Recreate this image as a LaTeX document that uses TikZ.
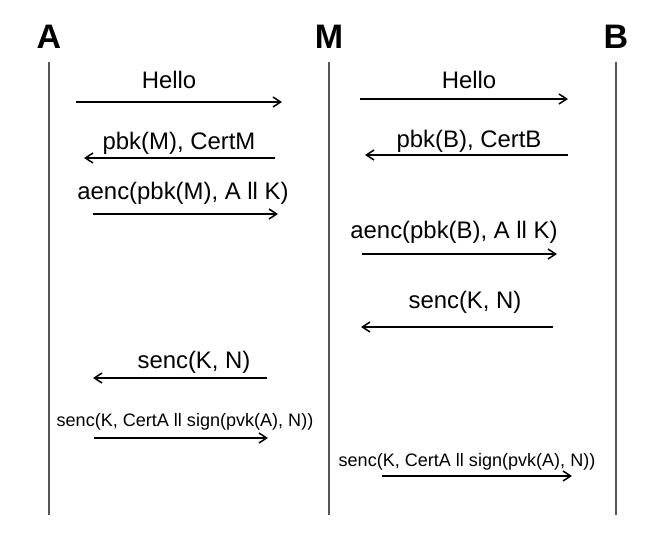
\documentclass[tikz,border=0pt]{standalone}
\usepackage{fontspec}
\setmainfont{Liberation Sans}
\usetikzlibrary{arrows.meta}
\definecolor{lifegray}{HTML}{555555}

\begin{document}
\begin{tikzpicture}[x=0.03cm, y=-0.03cm,
      party/.style={font=\fontsize{29}{31}\selectfont\bfseries, anchor=base,
                    inner sep=0pt},
      msg/.style={font=\fontsize{20.4}{22}\selectfont, anchor=base, inner sep=0pt},
      smallmsg/.style={font=\fontsize{15.4}{17}\selectfont, anchor=base,
                       inner sep=0pt},
      life/.style={draw=lifegray, line width=2pt},
      flow/.style={-{Straight Barb[length=6.5pt, width=8.5pt]}, line width=1.3pt},
    ]
      \useasboundingbox (0,0) rectangle (659,537);

      % participants
      \node[party] (A) at (49,49) {A};
      \node[party] (M) at (329,49) {M};
      \node[party] (B) at (616,49) {B};
      \coordinate (Atop) at (49,62);  \coordinate (Abot) at (49,515);
      \coordinate (Mtop) at (329,62); \coordinate (Mbot) at (329,515);
      \coordinate (Btop) at (616,62); \coordinate (Bbot) at (616,515);
      \draw[life] (Atop) -- (Abot);
      \draw[life] (Mtop) -- (Mbot);
      \draw[life] (Btop) -- (Bbot);

      % A <-> M
      \node[msg] (helloAM) at (169,89) {Hello};
      \coordinate (helloAMs) at (76,102);  \coordinate (helloAMe) at (282,102);
      \draw[flow] (helloAMs) -- (helloAMe);

      \node[msg] (certM) at (179,150) {pbk(M), CertM};
      \coordinate (certMs) at (275,158);  \coordinate (certMe) at (84,158);
      \draw[flow] (certMs) -- (certMe);

      \node[msg] (aencM) at (183,200) {aenc(pbk(M), A ll K)};
      \coordinate (aencMs) at (93,214);  \coordinate (aencMe) at (278,214);
      \draw[flow] (aencMs) -- (aencMe);

      \node[msg] (sencMA) at (194,369) {senc(K, N)};
      \coordinate (sencMAs) at (267,378);  \coordinate (sencMAe) at (93,378);
      \draw[flow] (sencMAs) -- (sencMAe);

      \node[smallmsg] (signAM) at (185,427) {senc(K, CertA ll sign(pvk(A), N))};
      \coordinate (signAMs) at (94,438);  \coordinate (signAMe) at (268,438);
      \draw[flow] (signAMs) -- (signAMe);

      % M <-> B
      \node[msg] (helloMB) at (469,89) {Hello};
      \coordinate (helloMBs) at (360,99);  \coordinate (helloMBe) at (568,99);
      \draw[flow] (helloMBs) -- (helloMBe);

      \node[msg] (certB) at (469,148) {pbk(B), CertB};
      \coordinate (certBs) at (568,155);  \coordinate (certBe) at (365,155);
      \draw[flow] (certBs) -- (certBe);

      \node[msg] (aencB) at (454,239) {aenc(pbk(B), A ll K)};
      \coordinate (aencBs) at (362,254);  \coordinate (aencBe) at (557,254);
      \draw[flow] (aencBs) -- (aencBe);

      \node[msg] (sencBM) at (465,309) {senc(K, N)};
      \coordinate (sencBMs) at (553,327);  \coordinate (sencBMe) at (361,327);
      \draw[flow] (sencBMs) -- (sencBMe);

      \node[smallmsg] (signMB) at (467,467) {senc(K, CertA ll sign(pvk(A), N))};
      \coordinate (signMBs) at (382,476);  \coordinate (signMBe) at (572,476);
      \draw[flow] (signMBs) -- (signMBe);
    \end{tikzpicture}
\end{document}
